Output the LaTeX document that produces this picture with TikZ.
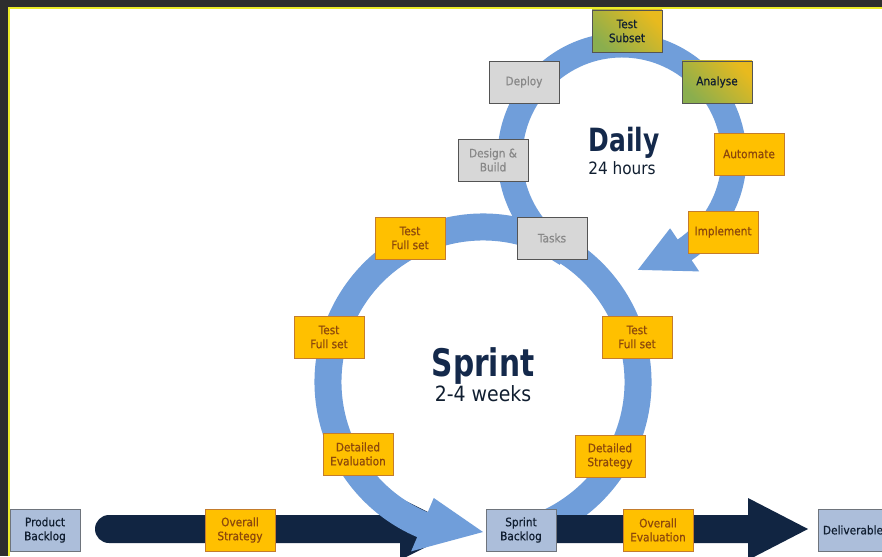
\documentclass[tikz,border=0pt]{standalone}
\usepackage{fontspec}
\setmainfont{DejaVu Sans}[FakeStretch=0.9]
\newfontfamily\headfont{DejaVu Sans}[FakeStretch=0.78]
\newfontfamily\boxfont{DejaVu Sans}[FakeStretch=0.9, FakeBold=0.6]

\definecolor{frame-dk}{RGB}{46,46,46}    %outer frame
\definecolor{frame-yl}{RGB}{236,236,40}
\definecolor{ring-bl}{RGB}{112,158,218}  %cycle rings
\definecolor{band-nv}{RGB}{17,37,66}     %backbone arrows
\definecolor{box-or}{RGB}{255,192,0}
\definecolor{edge-or}{RGB}{196,124,44}
\definecolor{text-or}{RGB}{140,72,12}
\definecolor{box-gy}{RGB}{215,215,215}
\definecolor{edge-gy}{RGB}{84,84,84}
\definecolor{text-gy}{RGB}{136,136,136}
\definecolor{box-bg}{RGB}{172,190,218}
\definecolor{edge-bg}{RGB}{110,116,124}
\definecolor{text-nv}{RGB}{16,30,48}
\definecolor{box-gr}{RGB}{138,174,78}
\definecolor{box-gd}{RGB}{232,186,30}
\definecolor{title-nv}{RGB}{20,41,75}

\begin{document}
\begin{tikzpicture}[x=1pt,y=-1pt,  %one unit = one pixel, y runs down
    box/.style={draw, line width=0.8, minimum width=70, minimum height=42,
        inner sep=1, align=center, font=\boxfont\fontsize{11.7}{14}\selectfont},
    orbox/.style={box, fill=box-or, draw=edge-or, text=text-or},
    gybox/.style={box, fill=box-gy, draw=edge-gy, text=text-gy},
    bgbox/.style={box, fill=box-bg, draw=edge-bg, text=text-nv},
    grbox/.style={box, draw=edge-gy, text=text-nv,
        bottom color=box-gr, top color=box-gd, shading angle=-45},
    headtxt/.style={text=title-nv, inner sep=0, anchor=base,
        font=\headfont\bfseries\fontsize{#1}{#1}\selectfont},
    subtxt/.style={text=text-nv, inner sep=0, anchor=base,
        font=\fontsize{#1}{#1}\selectfont}]
    \useasboundingbox (0,0) rectangle (882,556);
    \clip (0,0) rectangle (882,556);

    % frame round the slide
    \fill[frame-dk] (0,0) rectangle (882,556);
    \fill[white] (9.5,9) rectangle (882,556);
    \draw[frame-yl, line width=1.6] (9,556) -- (9,8.3) -- (882,8.3);

    % backbone arrow, product backlog -> sprint backlog
    \fill[band-nv] (109,515) -- (400,515) -- (400,498) -- (462,529) -- (400,560)
        -- (400,543) -- (109,543) arc[start angle=90, end angle=270, radius=14] -- cycle;

    % sprint ring
    \def\ri{141.5} \def\ro{168.5}   %inner, outer radius
    \begin{scope}[shift={(483,382)}]
        \fill[ring-bl] (75:\ri) -- (75:\ro) arc[start angle=75, end angle=-247, radius=\ro]
            -- (-247:184) -- (-270:150) -- (-247:126) -- (-247:\ri)
            arc[start angle=-247, end angle=75, radius=\ri] -- cycle;
    \end{scope}

    % daily ring
    \def\ri{99.5} \def\ro{124.5}
    \begin{scope}[shift={(622,157)}]
        \fill[ring-bl] (120:\ri) -- (120:\ro) arc[start angle=120, end angle=416, radius=\ro]
            -- (416:138) -- (442:114) -- (416:86) -- (416:\ri)
            arc[start angle=416, end angle=120, radius=\ri] -- cycle;
    \end{scope}

    % backbone arrow, sprint backlog -> deliverable
    \fill[band-nv] (540,515) -- (748,515) -- (748,498) -- (808,529) -- (748,560)
        -- (748,543) -- (540,543) -- cycle;

    % daily boxes
    \node[grbox] (ts) at (627,31)  {Test\\Subset};
    \node[grbox] (an) at (717,82)  {Analyse};
    \node[orbox] (au) at (749,154) {Automate};
    \node[orbox] (im) at (723,232) {Implement};
    \node[gybox] (dp) at (524,82)  {Deploy};
    \node[gybox] (db) at (493,160) {Design \&\\Build};
    \node[gybox] (tk) at (552,238) {Tasks};

    % sprint boxes
    \node[orbox] (fa) at (410,238) {Test\\Full set};
    \node[orbox] (fb) at (329,337) {Test\\Full set};
    \node[orbox] (fc) at (637,337) {Test\\Full set};
    \node[orbox] (de) at (358,454) {Detailed\\Evaluation};
    \node[orbox] (ds) at (610,456) {Detailed\\Strategy};

    % backbone boxes
    \node[bgbox] (pb) at (45,530)  {Product\\Backlog};
    \node[orbox] (os) at (240,530) {Overall\\Strategy};
    \node[bgbox] (sb) at (521,530) {Sprint\\Backlog};
    \node[orbox] (oe) at (658,530) {Overall\\Evaluation};
    \node[bgbox] (dl) at (853,530) {Deliverable};

    % ring titles
    \node[headtxt=32] (dly) at (624,152) {Daily};
    \node[subtxt=17] (dlh) at (622,175) {24 hours};
    \node[headtxt=38] (spr) at (483,376) {Sprint};
    \node[subtxt=21] (spw) at (483,401) {2-4 weeks};
\end{tikzpicture}
\end{document}
